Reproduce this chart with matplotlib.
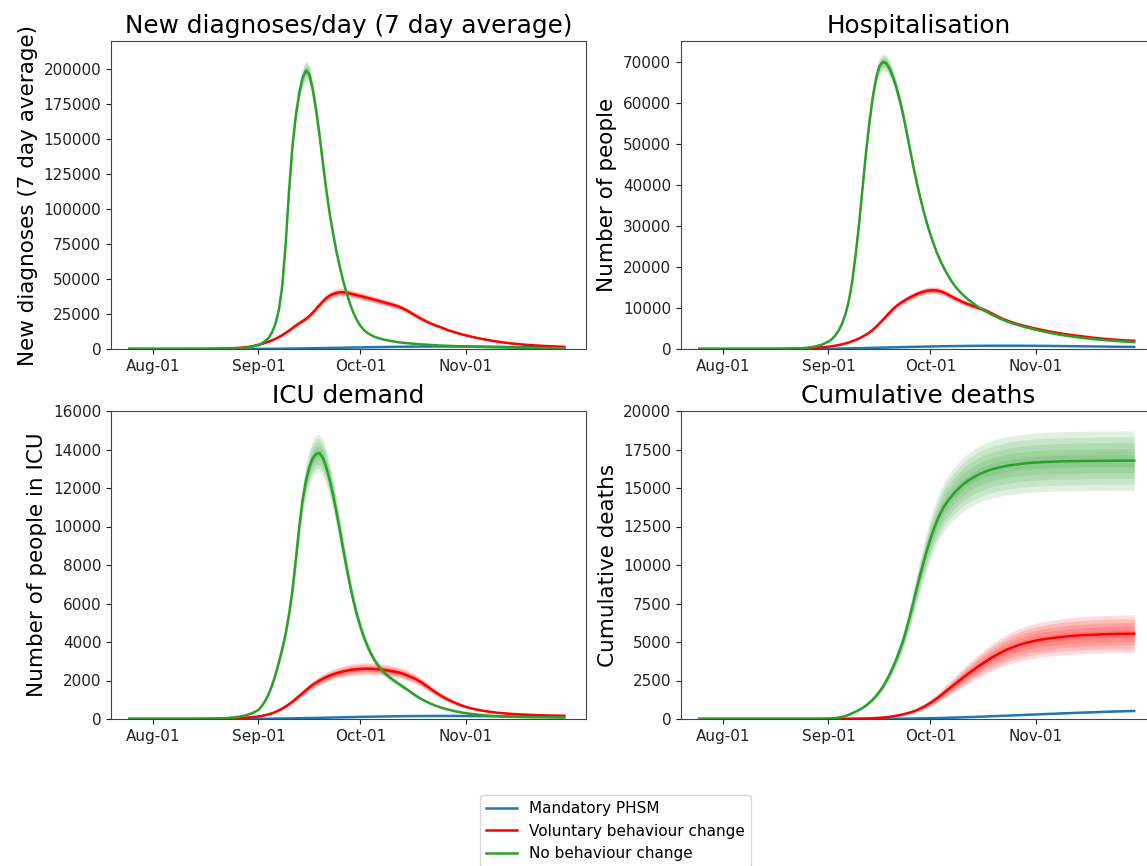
import matplotlib
matplotlib.use("Agg")
import matplotlib.pyplot as plt
import matplotlib.dates as mdates
import pandas as pd

# model output: every 2 days to 1 Sep, daily 2 Sep - 15 Oct, every 2 days to 30 Nov
dates = pd.DatetimeIndex(
    list(pd.date_range("2021-07-25", "2021-09-01", freq="2D"))
    + list(pd.date_range("2021-09-02", "2021-10-15", freq="D"))
    + list(pd.date_range("2021-10-17", "2021-11-30", freq="2D")))

scenarios = ["Mandatory PHSM", "Voluntary behaviour change", "No behaviour change"]
colors = ["#1f77b4", "#ff0000", "#2ca02c"]

# New diagnoses/day (7 day average)
diag_mandatory = [0, 0, 0, 0, 0, 0, 0, 0, 0, 0, 0, 0, 0, 0, 0, 0, 10, 20, 40, 70,
                  85, 100, 120, 140, 165, 190, 220, 250, 280, 310, 345, 380, 415, 450, 490,
                  530, 570, 610, 655, 700, 745, 790, 835, 880, 925, 970, 1015, 1060, 1105,
                  1150, 1195, 1240, 1280, 1320, 1360, 1400, 1435, 1470, 1505, 1540, 1570,
                  1600, 1625, 1650,
                  1700, 1740, 1770, 1790, 1800, 1800, 1790, 1770, 1740, 1700, 1660, 1610,
                  1550, 1490, 1430, 1370, 1300, 1240, 1180, 1120, 1060, 1000, 950]
diag_voluntary = [0, 0, 0, 0, 0, 10, 15, 20, 30, 40, 60, 90, 140, 210, 320, 480, 750, 1200, 1900, 3000,
                  3650, 4400, 5250, 6200, 7300, 8500, 9900, 11500, 13200, 15000, 16800, 18500,
                  20000, 21600, 23600, 26100, 28800, 31500, 34200, 36500, 38200, 39300, 40100,
                  40500, 40500, 40200, 39600, 39000, 38400, 37800, 37200, 36600, 35950, 35300,
                  34650, 34000, 33300, 32600, 31950, 31300, 30500, 29500, 28400, 27200,
                  24200, 21500, 19000, 17000, 15200, 13300, 11800, 10400, 9200, 8100, 7100,
                  6200, 5400, 4700, 4100, 3600, 3150, 2800, 2500, 2200, 1950, 1750, 1550]
diag_none = [0, 0, 0, 0, 0, 0, 0, 5, 10, 20, 30, 45, 70, 110, 170, 260, 420, 750, 1500, 2900,
             4000, 5800, 8000, 12000, 18000, 28000, 45000, 75000, 113000, 145000, 167000,
             183000, 194000, 199000, 196000, 185000, 170000, 152000, 132000, 113000, 96000,
             82000, 69000, 58000, 48000, 39500, 32000, 25500, 20500, 16500, 13700, 11600,
             10100, 8900, 8000, 7300, 6700, 6200, 5700, 5300, 4900, 4600, 4300, 4100,
             3700, 3300, 3000, 2700, 2450, 2250, 2050, 1900, 1750, 1600, 1450, 1330,
             1220, 1120, 1030, 950, 870, 800, 740, 680, 620, 570, 520]

# Hospitalisation
hosp_mandatory = [0, 0, 0, 0, 0, 0, 0, 0, 0, 0, 0, 0, 0, 0, 0, 5, 10, 20, 35, 55,
                  67, 80, 95, 110, 125, 140, 160, 180, 200, 220, 240, 260, 280, 300, 320,
                  340, 360, 380, 400, 420, 440, 460, 480, 500, 520, 540, 558, 575, 593, 610,
                  625, 640, 655, 670, 685, 700, 710, 720, 730, 740, 750, 760, 768, 775,
                  785, 795, 800, 800, 800, 795, 790, 780, 770, 755, 740, 720, 700, 680,
                  660, 640, 620, 600, 580, 560, 545, 530, 515]
hosp_voluntary = [0, 0, 0, 0, 0, 0, 0, 0, 5, 10, 10, 20, 30, 50, 80, 130, 200, 290, 410, 570,
                  680, 800, 960, 1150, 1360, 1600, 1880, 2200, 2580, 3000, 3480, 4000, 4650,
                  5400, 6250, 7100, 8000, 8900, 9750, 10500, 11100, 11650, 12150, 12600,
                  13000, 13400, 13730, 14000, 14200, 14300, 14330, 14250, 14050, 13750,
                  13350, 12900, 12450, 12050, 11650, 11300, 10950, 10650, 10350, 10050,
                  9500, 8700, 7850, 7100, 6500, 6000, 5550, 5150, 4800, 4450, 4150, 3850,
                  3600, 3350, 3150, 2950, 2750, 2580, 2430, 2300, 2180, 2080, 2000]
hosp_none = [0, 0, 0, 0, 0, 0, 0, 0, 3, 6, 10, 15, 30, 55, 100, 180, 330, 600, 1050, 1800,
             2400, 3300, 4500, 6200, 8500, 11800, 16500, 23000, 30500, 39000, 47500, 55000,
             61300, 66000, 69000, 70000, 69700, 68300, 66300, 63700, 60600, 57000, 52900,
             48600, 44400, 40500, 36900, 33600, 30600, 27900, 25500, 23300, 21400, 19700,
             18200, 16800, 15600, 14600, 13700, 12900, 12150, 11500, 10880, 10300,
             9300, 8400, 7600, 6900, 6300, 5800, 5300, 4900, 4500, 4150, 3800, 3500,
             3250, 3000, 2800, 2600, 2420, 2270, 2130, 2000, 1880, 1770, 1670]

# ICU demand
icu_mandatory = [0, 0, 0, 0, 0, 0, 0, 0, 0, 0, 0, 0, 0, 0, 0, 0, 0, 2, 5, 10,
                 11, 13, 15, 17, 19, 22, 25, 28, 31, 34, 37, 41, 44, 48, 51, 55, 58, 62,
                 66, 70, 74, 78, 82, 86, 90, 94, 98, 102, 106, 110, 113, 117, 120, 124,
                 127, 130, 133, 136, 138, 141, 143, 145, 147, 149,
                 152, 154, 156, 157, 158, 158, 157, 156, 154, 151, 148, 145, 141, 137,
                 133, 129, 125, 121, 117, 113, 109, 105, 101]
icu_voluntary = [0, 0, 0, 0, 0, 0, 0, 0, 0, 0, 5, 8, 12, 17, 23, 30, 50, 70, 95, 130,
                 162, 200, 245, 300, 370, 450, 545, 650, 770, 900, 1050, 1200, 1350, 1500,
                 1645, 1780, 1895, 2000, 2095, 2180, 2255, 2320, 2380, 2430, 2475, 2510,
                 2545, 2570, 2588, 2600, 2608, 2610, 2608, 2600, 2588, 2570, 2548, 2520,
                 2492, 2460, 2425, 2380, 2320, 2250,
                 2100, 1900, 1650, 1400, 1180, 990, 830, 690, 580, 500, 430, 380, 330,
                 300, 270, 250, 230, 215, 200, 190, 180, 175, 170]
icu_none = [0, 0, 0, 0, 0, 0, 0, 0, 0, 0, 5, 8, 12, 20, 40, 70, 110, 180, 290, 470,
            680, 950, 1300, 1750, 2300, 2950, 3650, 4450, 5450, 6700, 8300, 10000, 11400,
            12400, 13100, 13550, 13780, 13800, 13550, 13050, 12400, 11600, 10700, 9750,
            8750, 7800, 6900, 6100, 5400, 4800, 4270, 3820, 3430, 3100, 2830, 2600, 2410,
            2250, 2110, 1980, 1860, 1740, 1620, 1500,
            1250, 1030, 850, 700, 580, 480, 400, 330, 280, 240, 200, 170, 150, 130,
            120, 110, 100, 95, 90, 87, 85, 82, 80]

# Cumulative deaths
deaths_mandatory = [0, 0, 0, 0, 0, 0, 0, 0, 0, 0, 0, 0, 0, 0, 0, 0, 0, 0, 0, 0,
                    0, 1, 1, 2, 2, 3, 3, 4, 4, 5, 5, 6, 7, 8, 9, 10, 11, 13, 14, 16, 19, 22,
                    25, 28, 31, 35, 39, 43, 47, 52, 57, 62, 67, 73, 79, 85, 91, 98, 105, 112,
                    119, 127, 135, 143,
                    160, 178, 196, 214, 232, 250, 268, 286, 304, 322, 340, 357, 374, 391,
                    408, 424, 440, 456, 471, 486, 500, 512, 524]
deaths_voluntary = [0, 0, 0, 0, 0, 0, 0, 0, 0, 0, 0, 0, 0, 0, 0, 0, 0, 0, 0, 2,
                    3, 5, 6, 8, 10, 12, 15, 18, 22, 27, 33, 40, 50, 62, 77, 95, 118, 145, 178,
                    215, 258, 305, 360, 420, 495, 575, 680, 790, 915, 1050, 1195, 1350, 1520,
                    1700, 1875, 2050, 2225, 2400, 2575, 2750, 2920, 3080, 3245, 3400,
                    3700, 3980, 4230, 4450, 4640, 4800, 4930, 5040, 5130, 5200, 5260, 5310,
                    5360, 5400, 5430, 5455, 5475, 5495, 5510, 5520, 5530, 5535, 5540]
deaths_none = [0, 0, 0, 0, 0, 0, 0, 0, 0, 0, 0, 0, 0, 0, 0, 0, 0, 5, 15, 30,
               42, 60, 95, 140, 200, 280, 375, 480, 595, 720, 875, 1050, 1260, 1500, 1780,
               2100, 2480, 2900, 3380, 3900, 4480, 5100, 5880, 6700, 7600, 8500, 9370,
               10200, 10980, 11700, 12330, 12900, 13380, 13800, 14120, 14400, 14660, 14900,
               15110, 15300, 15460, 15600, 15730, 15850,
               16050, 16200, 16320, 16420, 16490, 16550, 16600, 16640, 16670, 16690, 16710,
               16725, 16735, 16745, 16752, 16758, 16763, 16767, 16770, 16772, 16774, 16776, 16778]

# relative width of the outer uncertainty band (mandatory, voluntary, none)
spread_diag = [0.05, 0.07, 0.035]
spread_hosp = [0.05, 0.06, 0.03]
spread_icu = [0.05, 0.12, 0.07]
spread_deaths = [0.10, 0.22, 0.115]

panels = [
    ("New diagnoses/day (7 day average)", "New diagnoses (7 day average)",
     [diag_mandatory, diag_voluntary, diag_none], spread_diag, 220000),
    ("Hospitalisation", "Number of people",
     [hosp_mandatory, hosp_voluntary, hosp_none], spread_hosp, 75100),
    ("ICU demand", "Number of people in ICU",
     [icu_mandatory, icu_voluntary, icu_none], spread_icu, 16000),
    ("Cumulative deaths", "Cumulative deaths",
     [deaths_mandatory, deaths_voluntary, deaths_none], spread_deaths, 20000),
]

W, H = 1147, 866
fig = plt.figure(figsize=(W / 100, H / 100), dpi=100)

# axes boxes in pixels: left, top, width, height
boxes = [(111, 41, 475, 308), (681, 41, 475, 308),
         (111, 411, 475, 308), (681, 411, 475, 308)]

month_ticks = pd.to_datetime(["2021-08-01", "2021-09-01", "2021-10-01", "2021-11-01"])
band_levels = [1.0, 0.8, 0.6, 0.4, 0.2]

lines = []
for (title, ylabel, series, spread, ytop), (l, t, w, h) in zip(panels, boxes):
    ax = fig.add_axes([l / W, 1 - (t + h) / H, w / W, h / H])
    lines = []
    for vals, s, c, name in zip(series, spread, colors, scenarios):
        v = pd.Series(vals, index=dates, dtype=float)
        for k in band_levels:
            ax.fill_between(dates, v * (1 - s * k), v * (1 + s * k),
                            color=c, alpha=0.14, linewidth=0)
        ln, = ax.plot(dates, v, color=c, linewidth=1.8, label=name,
                      solid_joinstyle="round")
        lines.append(ln)
    ax.set_title(title, fontsize=17.8)
    ax.set_ylabel(ylabel, fontsize=15.5)
    ax.set_ylim(0, ytop)
    ax.set_xlim(pd.Timestamp("2021-07-19 14:00"), pd.Timestamp("2021-12-06 10:00"))
    ax.set_xticks(month_ticks)
    ax.xaxis.set_major_formatter(mdates.DateFormatter("%b-%d"))
    ax.tick_params(labelsize=11, colors="#222222")
    for sp in ax.spines.values():
        sp.set_color("#444444")

fig.legend(lines, scenarios, loc="upper center", borderaxespad=0,
           bbox_to_anchor=(615.5 / W, 1 - 795 / H), fontsize=11)

fig.savefig("out.png", dpi=100)
